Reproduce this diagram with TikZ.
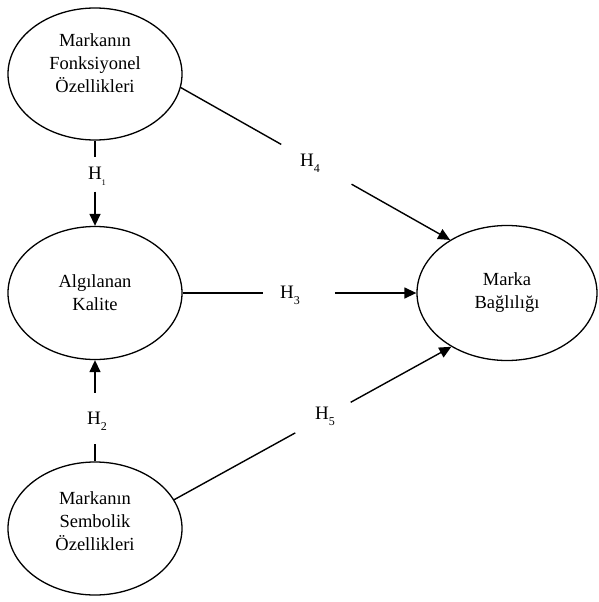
\documentclass[tikz,border=0pt]{standalone}
\usepackage{fontspec}
\setmainfont{Liberation Serif}
\usetikzlibrary{shapes.geometric,arrows.meta,calc}
\newcommand\hsub[1]{\raisebox{-0.3em}{\fontsize{12pt}{12pt}\selectfont #1}}
\tikzset{
  oval/.style={ellipse, draw, line width=1.3pt, inner sep=0pt, align=center,
    font=\fontsize{18.5pt}{23pt}\selectfont},
  hlab/.style={inner sep=0pt, font=\fontsize{19pt}{22pt}\selectfont},
  link/.style={line width=1.4pt},
  arr/.style={line width=1.4pt, -{Triangle[length=12pt,width=11pt]}}
}
\begin{document}
\begin{tikzpicture}[x=1pt,y=-1pt]
\useasboundingbox (0,0) rectangle (598,602);
\node[oval, minimum width=174pt, minimum height=132pt, text depth=21pt] (f) at (95,74) {Markanın\\Fonksiyonel\\Özellikleri};
\node[oval, minimum width=174pt, minimum height=133pt] (a) at (95,293) {Algılanan\\Kalite};
\node[oval, minimum width=174pt, minimum height=133pt, text depth=15pt] (s) at (95,528.5) {Markanın\\Sembolik\\Özellikleri};
\node[oval, minimum width=180pt, minimum height=135pt] (b) at (507,293) {Marka\\Bağlılığı};
% H1
\coordinate (h1a) at ($(f.south)!0.195!(a.north)$);
\coordinate (h1b) at ($(f.south)!0.598!(a.north)$);
\node[hlab] (h1) at (97,176) {H\hsub{\fontsize{8.5pt}{8.5pt}\selectfont 1}};
\draw[link] (f.south) -- (h1a);
\draw[arr] (h1b) -- (a.north);
% H2
\coordinate (h2a) at ($(s.north)!0.167!(a.south)$);
\coordinate (h2b) at ($(s.north)!0.676!(a.south)$);
\node[hlab] (h2) at (97,421) {H\hsub{2}};
\draw[link] (s.north) -- (h2a);
\draw[arr] (h2b) -- (a.south);
% H3
\coordinate (h3a) at ($(a.east)!0.345!(b.west)$);
\coordinate (h3b) at ($(a.east)!0.651!(b.west)$);
\node[hlab] (h3) at (290,295) {H\hsub{3}};
\draw[link] (a.east) -- (h3a);
\draw[arr] (h3b) -- (b.west);
% H4
\coordinate (h4a) at ($(f.-9.8)!0.373!(b.137.6)$);
\coordinate (h4b) at ($(f.-9.8)!0.634!(b.137.6)$);
\node[hlab] (h4) at (310,163) {H\hsub{4}};
\draw[link] (f.-9.8) -- (h4a);
\draw[arr] (h4b) -- (b.137.6);
% H5
\coordinate (h5a) at ($(s.20)!0.437!(b.224.5)$);
\coordinate (h5b) at ($(s.20)!0.637!(b.224.5)$);
\node[hlab] (h5) at (325,416) {H\hsub{5}};
\draw[link] (s.20) -- (h5a);
\draw[arr] (h5b) -- (b.224.5);
\end{tikzpicture}
\end{document}
